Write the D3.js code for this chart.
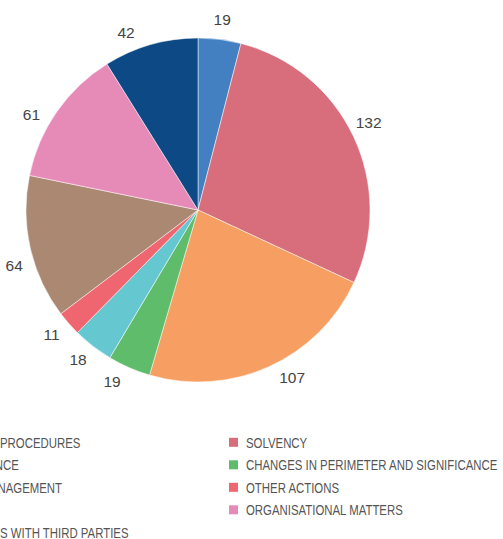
<!DOCTYPE html>
<html>
<head>
<meta charset="utf-8">
<script src="https://cdn.jsdelivr.net/npm/d3@7"></script>
<style>
  html, body { margin: 0; padding: 0; background: #fff; overflow: hidden; }
  svg { display: block; }
</style>
</head>
<body>
<svg id="chart" width="503" height="539"></svg>
<script>
// Actions by category
const categories = [
  "AUTHORISATION PROCEDURES",
  "SOLVENCY",
  "LEGAL COMPLIANCE",
  "CHANGES IN PERIMETER AND SIGNIFICANCE",
  "INVESTMENT MANAGEMENT",
  "OTHER ACTIONS",
  "REPORTING",
  "ORGANISATIONAL MATTERS",
  "COLLABORATIONS WITH THIRD PARTIES"
];
const values = [19, 132, 107, 19, 18, 11, 64, 61, 42];
const colors = [
  "#4380c1", "#d86e7b", "#f79f62", "#5fbc6a", "#65c8d0",
  "#ef6670", "#ab8871", "#e68bb8", "#0d4a85"
];
// Hand-tuned angular nudges (degrees) for the value labels, for readability
const labelNudge = [0, -2, -5, 3, 1, 1, -4, -5, -6];

const svg = d3.select("#chart");
const cx = 198, cy = 210, radius = 172, labelRadius = 192;

const data = categories.map((c, i) => ({ name: c, value: values[i], color: colors[i] }));

const pie = d3.pie().value(d => d.value).sort(null);
const arc = d3.arc().innerRadius(0).outerRadius(radius);

const g = svg.append("g").attr("transform", `translate(${cx},${cy})`);
const arcs = pie(data);

g.selectAll("path.slice")
  .data(arcs)
  .join("path")
  .attr("class", "slice")
  .attr("d", arc)
  .attr("fill", d => d.data.color)
  .attr("stroke", "#fff")
  .attr("stroke-width", 0.5);

function labelPos(d, i) {
  const a = (d.startAngle + d.endAngle) / 2 + labelNudge[i] * Math.PI / 180;
  return [labelRadius * Math.sin(a), -labelRadius * Math.cos(a)];
}

g.selectAll("text.value")
  .data(arcs)
  .join("text")
  .attr("class", "value")
  .attr("transform", (d, i) => `translate(${labelPos(d, i)})`)
  .attr("text-anchor", "middle")
  .attr("dy", "0.36em")
  .attr("font-family", "Liberation Sans, Arial, sans-serif")
  .attr("font-size", 15.5)
  .attr("fill", "#444")
  .text(d => d.data.value);

// Legend: two columns, filled row by row, condensed caps
const colX = d3.scaleOrdinal().domain([0, 1]).range([-113, 229]);
const rowY = d3.scaleLinear().domain([0, 1]).range([442.3, 464.8]);

const legend = svg.append("g").attr("class", "legend");
const item = legend.selectAll("g.item")
  .data(data)
  .join("g")
  .attr("class", "item")
  .attr("transform", (d, i) => `translate(${colX(i % 2)},${rowY(Math.floor(i / 2))})`);

item.append("rect")
  .attr("x", 0).attr("y", -4.5)
  .attr("width", 9).attr("height", 9)
  .attr("fill", d => d.color);

item.append("text")
  .attr("transform", "translate(17,0) scale(0.76,1)")
  .attr("dy", "0.36em")
  .attr("font-family", "Liberation Sans, Arial, sans-serif")
  .attr("font-size", 15)
  .attr("fill", "#555")
  .text(d => d.name);
</script>
</body>
</html>
